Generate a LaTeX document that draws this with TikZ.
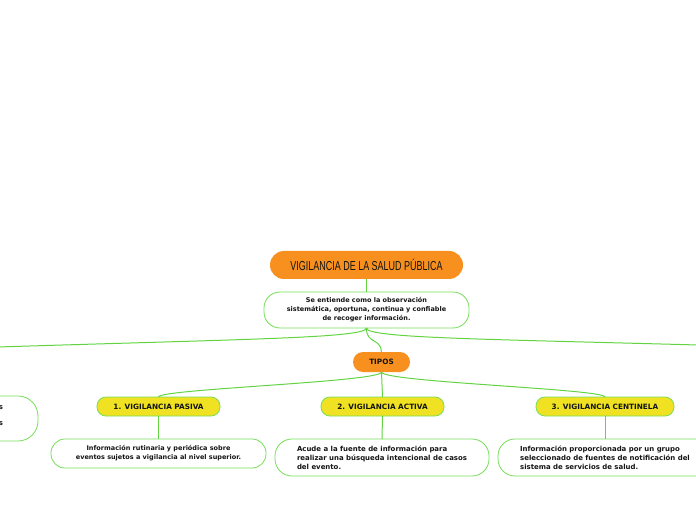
\documentclass[tikz,border=0pt]{standalone}
\usepackage{fontspec}
\usepackage{graphicx}
\setmainfont{DejaVu Sans}
\newfontfamily\titlefont{Liberation Sans}
\usetikzlibrary{calc}
\definecolor{ln}{RGB}{98,212,66}
\definecolor{bd}{RGB}{118,222,88}
\definecolor{org}{RGB}{247,144,30}
\definecolor{yel}{RGB}{240,226,34}
\definecolor{txt}{RGB}{20,20,20}
\tikzset{
  base/.style={inner sep=0pt, outer sep=0pt, align=center, text=txt,
    font=\fontsize{6.5}{9}\selectfont\bfseries},
  bigtext/.style={font=\fontsize{6.95}{9}\selectfont\bfseries},
  captext/.style={font=\fontsize{7.3}{9}\selectfont\bfseries},
  orangebox/.style={base, fill=org},
  yellowbox/.style={base, captext, fill=yel, draw=bd, line width=0.8pt,
    rounded corners=9pt, minimum height=19pt},
  descbox/.style={base, fill=white, draw=bd, line width=0.8pt,
    rounded corners=16pt},
  conn/.style={draw=ln, line width=1pt},
}
\begin{document}
\begin{tikzpicture}[x=1pt,y=1pt]
\useasboundingbox (0,0) rectangle (696,520);
\coordinate (lend) at (-2,173);
\coordinate (rend) at (698,175);
% nodes
\node[orangebox, rounded corners=14pt, minimum width=193pt, minimum height=28pt,
  font=\titlefont\fontsize{13}{13}\selectfont] (title) at (366.5,255)
  {\scalebox{0.69}[1]{VIGILANCIA DE LA SALUD PÚBLICA}};
\node[descbox, minimum width=205pt, minimum height=36pt] (desc) at (366.5,210)
  {Se entiende como la observación\\sistemática, oportuna, continua y confiable\\de recoger información.};
\node[orangebox, captext, rounded corners=10pt, minimum width=57pt, minimum height=20pt] (tipos) at (381.5,158) {TIPOS};
\node[yellowbox, minimum width=123pt] (pasiva) at (158.5,113.5) {1. VIGILANCIA PASIVA};
\node[yellowbox, minimum width=123pt] (activa) at (382.5,113.5) {2. VIGILANCIA ACTIVA};
\node[yellowbox, minimum width=138pt] (centinela) at (605,113.5) {3. VIGILANCIA CENTINELA};
\node[descbox, rounded corners=14pt, minimum width=215pt, minimum height=29pt] (pdesc) at (158.5,66.5)
  {Información rutinaria y periódica sobre\\eventos sujetos a vigilancia al nivel superior.};
\node[descbox, bigtext, align=left, rounded corners=17pt, minimum width=214pt, minimum height=37pt] (adesc) at (382,62.5)
  {Acude a la fuente de información para\\realizar una búsqueda intencional de casos\\del evento.};
\node[descbox, bigtext, align=left, rounded corners=17pt, minimum width=214pt, minimum height=37pt] (cdesc) at (605,62.5)
  {Información proporcionada por un grupo\\seleccionado de fuentes de notificación del\\sistema de servicios de salud.};
\node[descbox, rounded corners=20pt, minimum width=214pt, minimum height=45pt] (lbox) at (-69,101.5) {};
\node[base, bigtext, anchor=base east] (ls1) at (3,110.5) {s};
\node[base, bigtext, anchor=base east] (ls2) at (3,94.5) {s};
% connectors
\draw[conn] (title.south) -- (desc.north);
\draw[conn] (desc.south) .. controls (366,182) and (250,181) .. (lend);
\draw[conn] (desc.south) .. controls (366,182) and (480,181) .. (rend);
\draw[conn] (desc.south) .. controls (366,176) and (381,182) .. (tipos.north);
\draw[conn] (tipos.south) .. controls +(0,-10) and +(0,8) .. (pasiva.north);
\draw[conn] (tipos.south) -- (activa.north);
\draw[conn] (tipos.south) .. controls +(0,-10) and +(0,8) .. (centinela.north);
\draw[conn] (pasiva.south) -- (pdesc.north);
\draw[conn] (activa.south) -- (adesc.north);
\draw[conn] (centinela.south) -- (cdesc.north);
\end{tikzpicture}
\end{document}
